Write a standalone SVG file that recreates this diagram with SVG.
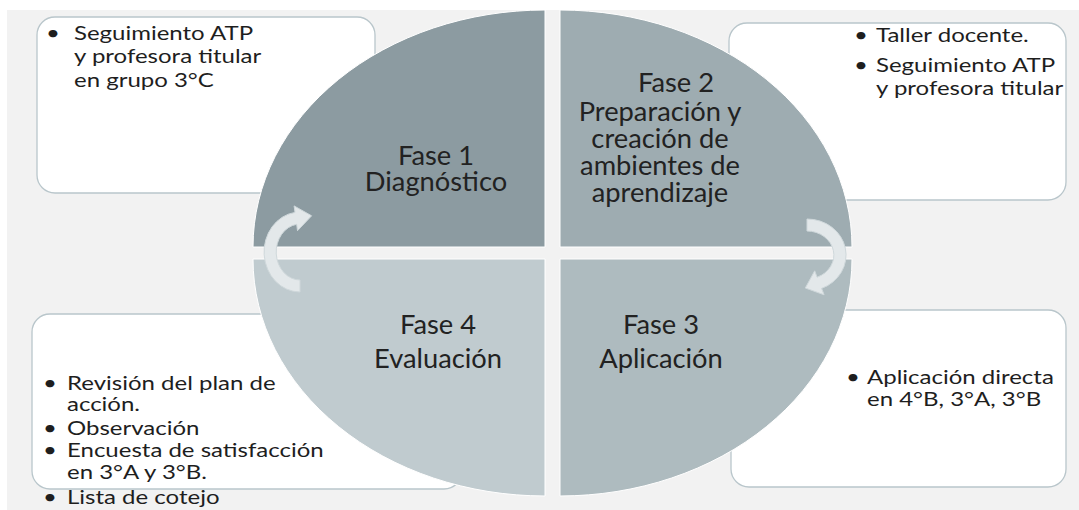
<svg xmlns="http://www.w3.org/2000/svg" width="1079" height="510" viewBox="0 0 1079 510">
<style>
.bg{fill:#f2f2f2}
.box{fill:#ffffff;stroke:#b9c6cb;stroke-width:1.3}
.q{stroke:#ffffff;stroke-width:1}
.q1{fill:#8c9ba1}.q2{fill:#9eacb1}.q3{fill:#aebbbf}.q4{fill:#c0cbcf}
.bt{font-family:Lato,"Liberation Sans",sans-serif;font-size:20px;fill:#1e1e1e}
.pt{font-family:Lato,"Liberation Sans",sans-serif;font-size:26px;fill:#222222;text-anchor:middle}
.arr{fill:#e3e8ea;stroke:#cfd8db;stroke-width:1}
</style>
<rect class="bg" x="7" y="10" width="1072" height="500"/>
<g id="box1"><rect class="box" x="37" y="17" width="338" height="176" rx="18"/>
<text class="bt" transform="translate(46,40) scale(1.2,1)">•</text>
<text class="bt" transform="translate(74,40) scale(1.2,1)">Seguimiento ATP</text>
<text class="bt" transform="translate(74,63) scale(1.2,1)">y profesora titular</text>
<text class="bt" transform="translate(74,87) scale(1.2,1)">en grupo 3°C</text>
</g>
<g id="box2"><rect class="box" x="729" y="23" width="337" height="177" rx="18"/>
<text class="bt" transform="translate(854,42) scale(1.2,1)">•</text>
<text class="bt" transform="translate(876,42) scale(1.2,1)">Taller docente.</text>
<text class="bt" transform="translate(854,72) scale(1.2,1)">•</text>
<text class="bt" transform="translate(876,72) scale(1.2,1)">Seguimiento ATP</text>
<text class="bt" transform="translate(876,95) scale(1.2,1)">y profesora titular</text>
</g>
<g id="box3"><rect class="box" x="32" y="314" width="430" height="175" rx="18"/>
<text class="bt" transform="translate(43,390) scale(1.2,1)">•</text>
<text class="bt" transform="translate(67,390) scale(1.2,1)">Revisión del plan de</text>
<text class="bt" transform="translate(67,411) scale(1.2,1)">acción.</text>
<text class="bt" transform="translate(43,435) scale(1.2,1)">•</text>
<text class="bt" transform="translate(67,435) scale(1.2,1)">Observación</text>
<text class="bt" transform="translate(43,457) scale(1.2,1)">•</text>
<text class="bt" transform="translate(67,457) scale(1.2,1)">Encuesta de satisfacción</text>
<text class="bt" transform="translate(67,479) scale(1.2,1)">en 3°A y 3°B.</text>
<text class="bt" transform="translate(43,504) scale(1.2,1)">•</text>
<text class="bt" transform="translate(67,504) scale(1.2,1)">Lista de cotejo</text>
</g>
<g id="box4"><rect class="box" x="731" y="310" width="335" height="177" rx="18"/>
<text class="bt" transform="translate(846,384) scale(1.2,1)">•</text>
<text class="bt" transform="translate(867,384) scale(1.2,1)">Aplicación directa</text>
<text class="bt" transform="translate(867,406) scale(1.2,1)">en 4°B, 3°A, 3°B</text>
</g>
<g id="fase1"><path class="q q1" d="M545,247 L253,247 A292,237 0 0 1 545,10 Z"/>
<text class="pt" transform="translate(436,165) scale(1.05,1)">Fase 1</text>
<text class="pt" transform="translate(436,191) scale(1.05,1)">Diagnóstico</text>
</g>
<g id="fase2"><path class="q q2" d="M560,247 L560,10 A292,237 0 0 1 852,247 Z"/>
<text class="pt" transform="translate(676,92) scale(1.05,1)">Fase 2</text>
<text class="pt" transform="translate(660,121) scale(1.05,1)">Preparación y</text>
<text class="pt" transform="translate(660,148) scale(1.05,1)">creación de</text>
<text class="pt" transform="translate(660,175) scale(1.05,1)">ambientes de</text>
<text class="pt" transform="translate(660,202) scale(1.05,1)">aprendizaje</text>
</g>
<g id="fase3"><path class="q q3" d="M560,259 L852,259 A292,237 0 0 1 560,496 Z"/>
<text class="pt" transform="translate(661,334) scale(1.05,1)">Fase 3</text>
<text class="pt" transform="translate(661,368) scale(1.05,1)">Aplicación</text>
</g>
<g id="fase4"><path class="q q4" d="M545,259 L545,496 A292,237 0 0 1 253,259 Z"/>
<text class="pt" transform="translate(438,334) scale(1.05,1)">Fase 4</text>
<text class="pt" transform="translate(438,368) scale(1.05,1)">Evaluación</text>
</g>
<g id="connectors">
<path class="arr" d="M300,292 A36,40 0 0 1 295,212.4 L294.1,205.9 L311.6,215.8 L297.5,230.7 L296.7,224.3 A24,28 0 0 0 300,280 Z"/>
<path class="arr" d="M807,219 A39,36 0 0 1 821.6,288.4 L824.1,294.8 L805.3,288 L814.7,270.8 L817.1,277.2 A27,24 0 0 0 807,231 Z"/>
</g>
</svg>
